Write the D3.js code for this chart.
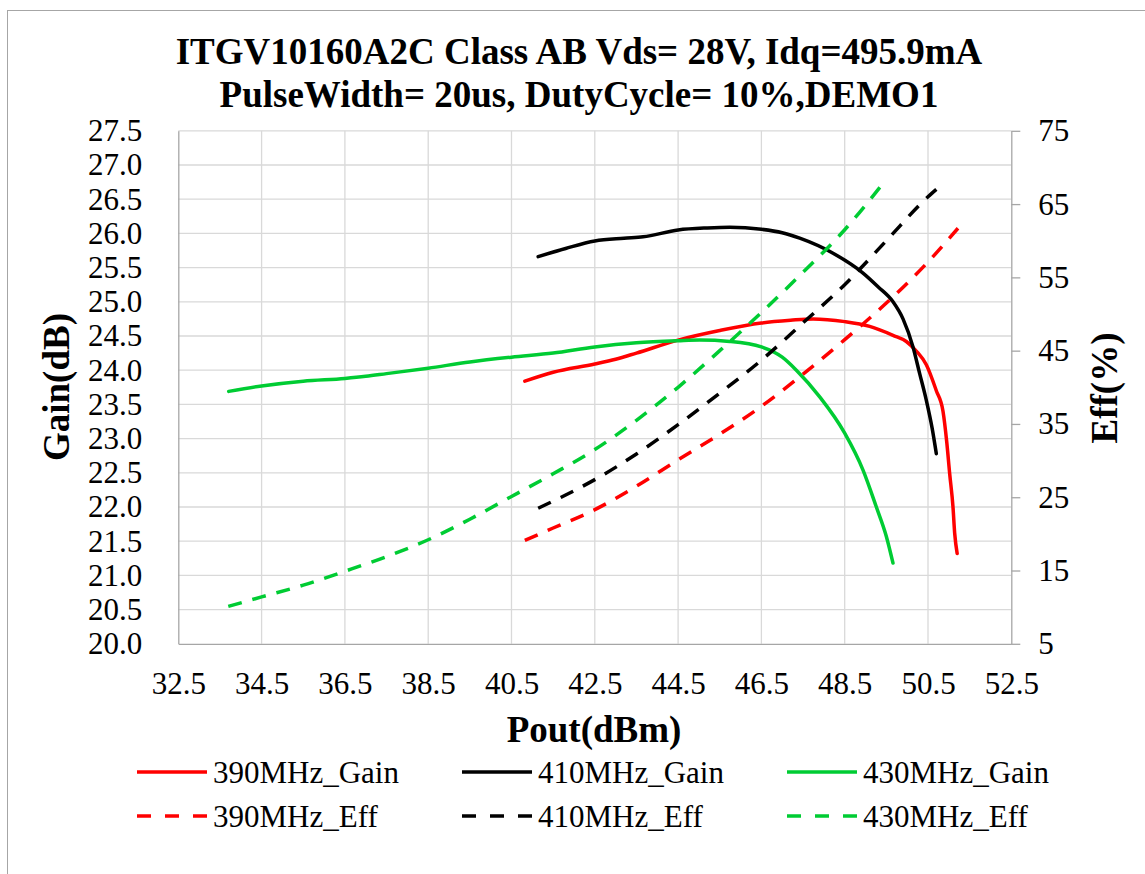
<!DOCTYPE html>
<html>
<head>
<meta charset="utf-8">
<script src="https://cdn.jsdelivr.net/npm/d3@7/dist/d3.min.js"></script>
<style>
  html, body { margin: 0; padding: 0; background: #fff; }
  svg { display: block; }
  svg text { font-family: "Liberation Serif", "Times New Roman", Times, "DejaVu Serif", serif !important; }
</style>
</head>
<body>
<div id="chart"></div>
<script>
// Pout (dBm) and readings per frequency
const pout390Gain = [40.82, 41.5, 42.5, 43.0, 43.5, 44.5, 45.5, 46.5, 47.2, 47.74, 48.5, 49.1, 49.66, 49.98, 50.22, 50.46, 50.7, 50.86, 50.95, 51.02, 51.1, 51.14, 51.2];
const gain390 = [23.84, 23.97, 24.09, 24.16, 24.25, 24.44, 24.58, 24.69, 24.73, 24.75, 24.71, 24.64, 24.51, 24.42, 24.28, 24.08, 23.70, 23.40, 22.95, 22.49, 22.0, 21.62, 21.32];

const pout410Gain = [41.14, 41.8, 42.5, 43.2, 43.66, 44.5, 45.2, 45.74, 46.5, 47.0, 47.42, 48.22, 48.94, 49.3, 49.66, 49.9, 50.14, 50.3, 50.46, 50.6, 50.7];
const gain410 = [25.66, 25.78, 25.89, 25.93, 25.95, 26.05, 26.08, 26.09, 26.06, 26.01, 25.93, 25.71, 25.42, 25.22, 25.00, 24.75, 24.34, 23.95, 23.56, 23.15, 22.78];

const pout430Gain = [33.71, 34.5, 35.5, 36.5, 37.0, 37.5, 38.5, 39.5, 40.5, 41.5, 42.5, 43.5, 44.5, 45.02, 45.74, 46.5, 47.0, 47.34, 47.9, 48.5, 48.94, 49.26, 49.5, 49.66];
const gain430 = [23.69, 23.77, 23.84, 23.88, 23.91, 23.95, 24.03, 24.12, 24.19, 24.25, 24.34, 24.40, 24.43, 24.44, 24.42, 24.34, 24.19, 24.0, 23.61, 23.08, 22.54, 22.0, 21.57, 21.18];

const pout390Eff = [40.82, 41.5, 42.5, 43.5, 44.5, 45.5, 46.5, 47.5, 48.5, 49.5, 50.5, 51.22];
const eff390 = [19.1, 20.8, 23.3, 26.5, 30.1, 33.6, 37.4, 41.8, 46.5, 51.5, 57.1, 61.7];

const pout410Eff = [41.14, 41.8, 42.5, 43.5, 44.5, 45.5, 46.5, 47.5, 48.5, 49.5, 50.5, 50.7];
const eff410 = [23.5, 25.3, 27.4, 30.9, 34.9, 39.2, 43.7, 48.8, 54.0, 60.0, 66.0, 67.0];

const pout430Eff = [33.7, 34.5, 35.5, 36.5, 37.5, 38.5, 39.5, 40.5, 41.5, 42.5, 43.5, 44.5, 45.5, 46.5, 47.5, 48.5, 49.5];
const eff430 = [10.1, 11.4, 13.0, 14.9, 16.9, 19.2, 22.0, 25.1, 28.2, 31.5, 35.5, 40.0, 45.0, 50.2, 55.7, 61.5, 68.4];

const xTicks = [32.5, 34.5, 36.5, 38.5, 40.5, 42.5, 44.5, 46.5, 48.5, 50.5, 52.5];
const gainTicks = d3.range(0, 16).map(i => 20 + i * 0.5);
const effTicks = [5, 15, 25, 35, 45, 55, 65, 75];

const titleLines = ['ITGV10160A2C Class AB Vds= 28V, Idq=495.9mA', 'PulseWidth= 20us, DutyCycle= 10%,DEMO1'];

const series = [
    { name: '390MHz_Gain', x: pout390Gain, y: gain390, color: '#ff0000', dashed: false, axis: 'gain' },
    { name: '410MHz_Gain', x: pout410Gain, y: gain410, color: '#000000', dashed: false, axis: 'gain' },
    { name: '430MHz_Gain', x: pout430Gain, y: gain430, color: '#00cc33', dashed: false, axis: 'gain' },
    { name: '390MHz_Eff', x: pout390Eff, y: eff390, color: '#ff0000', dashed: true, axis: 'eff' },
    { name: '410MHz_Eff', x: pout410Eff, y: eff410, color: '#000000', dashed: true, axis: 'eff' },
    { name: '430MHz_Eff', x: pout430Eff, y: eff430, color: '#00cc33', dashed: true, axis: 'eff' }
];

const width = 1145, height = 874;
const plot = { left: 178.3, right: 1011.3, top: 130.8, bottom: 643.8 };

const svg = d3.select('#chart').append('svg')
    .attr('width', width)
    .attr('height', height)
    .style('background', '#fff');

// outer chart frame (only left/top edges fall inside the picture)
svg.append('rect')
    .attr('x', 7.5).attr('y', 10.5)
    .attr('width', 1160).attr('height', 900)
    .attr('fill', 'none')
    .attr('stroke', '#a6a6a6')
    .attr('stroke-width', 1);

const x = d3.scaleLinear().domain([32.5, 52.5]).range([plot.left, plot.right]);
const yGain = d3.scaleLinear().domain([20, 27.5]).range([plot.bottom, plot.top]);
const yEff = d3.scaleLinear().domain([5, 75]).range([plot.bottom, plot.top]);

// grid
const grid = svg.append('g').attr('class', 'grid');
grid.selectAll('line.h').data(gainTicks.slice(1)).enter().append('line')
    .attr('x1', plot.left).attr('x2', plot.right)
    .attr('y1', d => yGain(d)).attr('y2', d => yGain(d))
    .attr('stroke', '#d9d9d9').attr('stroke-width', 1.3);
grid.selectAll('line.v').data(xTicks.slice(1, -1)).enter().append('line')
    .attr('x1', d => x(d)).attr('x2', d => x(d))
    .attr('y1', plot.top).attr('y2', plot.bottom)
    .attr('stroke', '#d9d9d9').attr('stroke-width', 1.3);

// axes
const styleAxis = g => {
    g.attr('font-family', null).attr('font-size', 31);
    g.select('.domain').attr('stroke', '#a6a6a6').attr('stroke-width', 1.3);
    g.selectAll('.tick line').attr('stroke', '#a6a6a6').attr('stroke-width', 1.3);
    g.selectAll('.tick text').attr('fill', '#000');
};

svg.append('g')
    .attr('transform', `translate(${plot.left},0)`)
    .call(d3.axisLeft(yGain).tickValues(gainTicks).tickSize(0).tickPadding(36).tickFormat(d3.format('.1f')).tickSizeOuter(0))
    .call(styleAxis);

svg.append('g')
    .attr('transform', `translate(0,${plot.bottom})`)
    .call(d3.axisBottom(x).tickValues(xTicks).tickSize(0).tickPadding(28).tickFormat(d3.format('.1f')).tickSizeOuter(0))
    .call(styleAxis);

svg.append('g')
    .attr('transform', `translate(${plot.right},0)`)
    .call(d3.axisRight(yEff).tickValues(effTicks).tickSize(9).tickPadding(18).tickSizeOuter(0))
    .call(styleAxis);

// curves
const curves = svg.append('g').attr('class', 'curves');
series.forEach(s => {
    const yScale = s.axis === 'gain' ? yGain : yEff;
    const pts = s.x.map((v, i) => [v, s.y[i]]);
    const line = d3.line()
        .x(d => x(d[0]))
        .y(d => yScale(d[1]))
        .curve(d3.curveMonotoneX);
    curves.append('path')
        .datum(pts)
        .attr('d', line)
        .attr('fill', 'none')
        .attr('stroke', s.color)
        .attr('stroke-width', 3.5)
        .attr('stroke-dasharray', s.dashed ? '14,11' : null)
        .attr('stroke-linejoin', 'round')
        .attr('stroke-linecap', s.dashed ? 'butt' : 'round');
});

// title
svg.append('text')
    .attr('x', 579).attr('text-anchor', 'middle')
    .attr('font-size', 37).attr('font-weight', 'bold')
    .selectAll('tspan').data(titleLines).enter().append('tspan')
    .attr('x', 579)
    .attr('y', (d, i) => 64 + i * 43)
    .text(d => d);

// axis titles
svg.append('text')
    .attr('x', 594).attr('y', 742)
    .attr('text-anchor', 'middle')
    .attr('font-size', 37).attr('font-weight', 'bold')
    .text('Pout(dBm)');

svg.append('text')
    .attr('transform', 'translate(69,387) rotate(-90)')
    .attr('text-anchor', 'middle')
    .attr('font-size', 37).attr('font-weight', 'bold')
    .text('Gain(dB)');

svg.append('text')
    .attr('transform', 'translate(1117,388) rotate(-90)')
    .attr('text-anchor', 'middle')
    .attr('font-size', 37).attr('font-weight', 'bold')
    .text('Eff(%)');

// legend: 3 columns x 2 rows
const legendCols = [137, 462, 787];
const legendRows = [772, 816];
const legend = svg.append('g').attr('class', 'legend');
series.forEach((s, i) => {
    const lx = legendCols[i % 3];
    const ly = legendRows[Math.floor(i / 3)];
    legend.append('line')
        .attr('x1', lx).attr('x2', lx + 70)
        .attr('y1', ly).attr('y2', ly)
        .attr('stroke', s.color)
        .attr('stroke-width', 3.5)
        .attr('stroke-dasharray', s.dashed ? '14,14' : null);
    legend.append('text')
        .attr('x', lx + 76).attr('y', ly)
        .attr('dy', '0.35em')
        .attr('font-size', 31)
        .text(s.name);
});
</script>
</body>
</html>
